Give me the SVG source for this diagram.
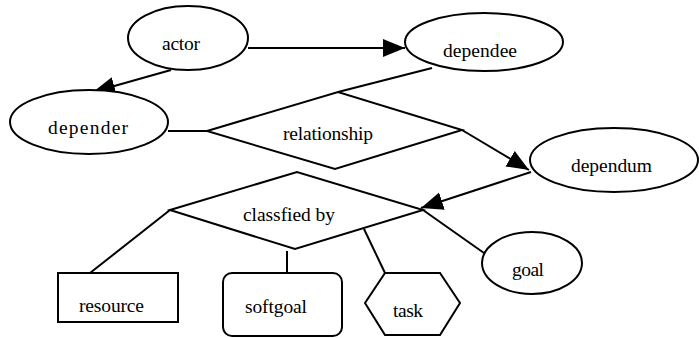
<svg xmlns="http://www.w3.org/2000/svg" width="699" height="338" viewBox="0 0 699 338" font-family="'Liberation Serif', 'DejaVu Serif', serif">
<style>
.s{fill:#fff;stroke:#000;stroke-width:2}
.c{fill:none;stroke:#000;stroke-width:2}
text{font-family:'Liberation Serif','DejaVu Serif',serif;font-size:19.5px;fill:#000}
</style>
<defs>
<marker id="ah" markerUnits="userSpaceOnUse" markerWidth="24" markerHeight="20" refX="22" refY="9" orient="auto">
<path d="M0,0 L22,9 L0,18 z" fill="#000"/>
</marker>
</defs>
<rect width="699" height="338" fill="#fff"/>
<g id="connectors">
<line class="c" x1="248" y1="48" x2="405" y2="48" marker-end="url(#ah)"/>
<line class="c" x1="171" y1="70" x2="93" y2="92" marker-end="url(#ah)"/>
<line class="c" x1="168" y1="131" x2="207" y2="131"/>
<line class="c" x1="432" y1="68" x2="338" y2="92"/>
<line class="c" x1="462" y1="130" x2="529" y2="170" marker-end="url(#ah)"/>
<line class="c" x1="531" y1="172" x2="421" y2="208" marker-end="url(#ah)"/>
<line class="c" x1="484" y1="253" x2="423" y2="210"/>
<line class="c" x1="90" y1="273" x2="170" y2="210"/>
<line class="c" x1="287" y1="251" x2="287" y2="273"/>
<line class="c" x1="364" y1="229" x2="385" y2="273"/>
</g>
<g id="actor">
<ellipse class="s" cx="188" cy="38" rx="60" ry="32"/>
<text x="162" y="50" textLength="38">actor</text>
</g>
<g id="dependee">
<ellipse class="s" cx="484" cy="42" rx="79" ry="29"/>
<text x="443" y="57" textLength="74">dependee</text>
</g>
<g id="depender">
<ellipse class="s" cx="89" cy="122" rx="79" ry="32"/>
<text x="48" y="134" textLength="80">depender</text>
</g>
<g id="relationship">
<polygon class="s" points="207,131 338,92 462,130 335,169"/>
<text x="283" y="140" textLength="90">relationship</text>
</g>
<g id="dependum">
<ellipse class="s" cx="614" cy="160" rx="84" ry="32"/>
<text x="571" y="172" textLength="81">dependum</text>
</g>
<g id="classified">
<polygon class="s" points="170,210 297,172 423,210 295,249"/>
<text x="243" y="221" textLength="92">classfied by</text>
</g>
<g id="goal">
<ellipse class="s" cx="532" cy="263" rx="50" ry="31"/>
<text x="512" y="276" textLength="32">goal</text>
</g>
<g id="resource">
<rect class="s" x="58" y="273" width="120" height="49"/>
<text x="79" y="312" textLength="65">resource</text>
</g>
<g id="softgoal">
<rect class="s" x="223" y="273" width="119" height="63" rx="9"/>
<text x="245" y="313" textLength="62">softgoal</text>
</g>
<g id="task">
<polygon class="s" points="385,273 440,273 460,303 440,335 385,335 365,303"/>
<text x="393" y="317" textLength="30">task</text>
</g>
</svg>
